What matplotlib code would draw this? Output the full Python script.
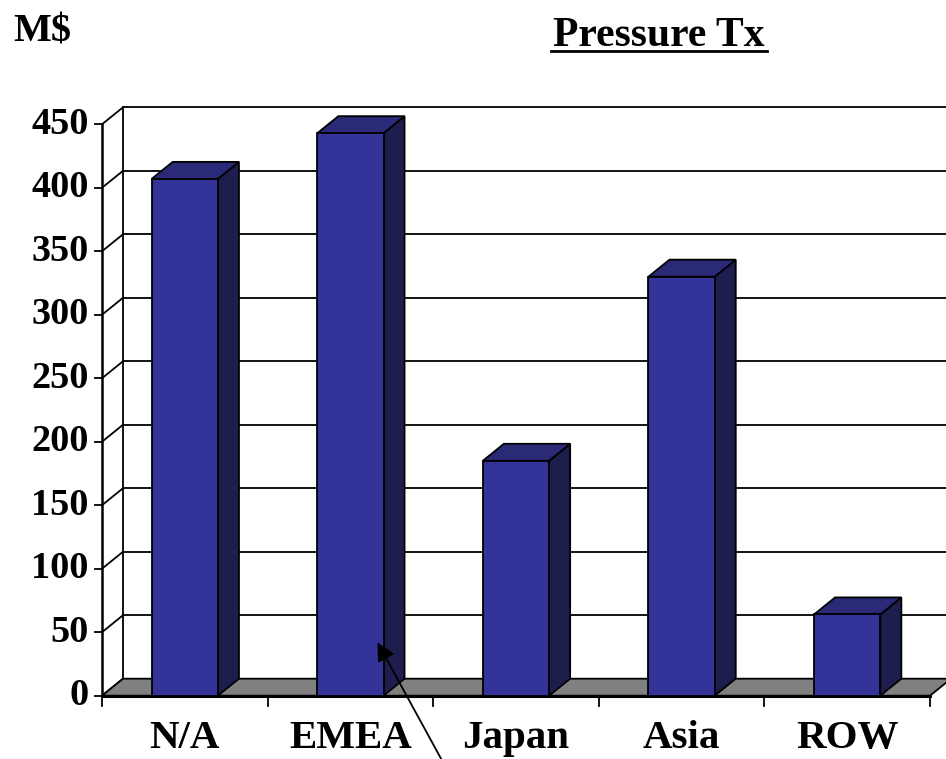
import matplotlib
matplotlib.use("Agg")
import matplotlib.pyplot as plt
from matplotlib.patches import Polygon

categories = ["N/A", "EMEA", "Japan", "Asia", "ROW"]
values = [407, 443, 185, 330, 64]
y_ticks = list(range(0, 451, 50))

FONT = ["Liberation Serif", "DejaVu Serif"]
FRONT = "#333399"
SIDE = "#1e1e4e"
TOP = "#2a2a78"

# depth offset of the 3d box, in data units
DX = 0.127
DY = 13.4
BAR_W = 0.40

fig = plt.figure(figsize=(9.46, 7.59), dpi=100)
ax = fig.add_axes([102 / 946, (759 - 695.7) / 759, 828 / 946, 571.4 / 759])
ax.set_xlim(0, len(categories))
ax.set_ylim(0, 450)
ax.axis("off")

n = len(categories)
lw = 1.3

# back wall gridlines + side wall diagonals
for v in y_ticks:
    ax.plot([DX, n + DX + 0.2], [v + DY, v + DY], color="black", lw=lw, clip_on=False, zorder=1)
    ax.plot([0, DX], [v, v + DY], color="black", lw=lw, clip_on=False, zorder=1)
    ax.plot([-0.04, 0], [v, v], color="black", lw=lw, clip_on=False, zorder=3)
    ax.text(-0.082, v, str(v), ha="right", va="center", fontsize=27.5,
            fontweight="bold", family=FONT)
ax.plot([DX, DX], [DY, 450 + DY], color="black", lw=lw, clip_on=False, zorder=1)
ax.plot([0, 0], [0, 450], color="black", lw=1.8, clip_on=False, zorder=3)

# floor
floor = Polygon([(0, 0), (n, 0), (n + DX, DY), (DX, DY)], closed=True,
                facecolor="#808080", edgecolor="black", lw=lw, clip_on=False, zorder=2)
ax.add_patch(floor)
ax.plot([0, n], [0, 0], color="black", lw=2.2, clip_on=False, zorder=3)
for i in range(n + 1):
    ax.plot([i, i], [0, -8], color="black", lw=lw, clip_on=False, zorder=3)

# bars
for i, (cat, v) in enumerate(zip(categories, values)):
    x0 = i + 0.5 - BAR_W / 2
    x1 = i + 0.5 + BAR_W / 2
    front = Polygon([(x0, 0), (x1, 0), (x1, v), (x0, v)], closed=True,
                    facecolor=FRONT, edgecolor="black", lw=lw, zorder=5)
    side = Polygon([(x1, 0), (x1 + DX, DY), (x1 + DX, v + DY), (x1, v)], closed=True,
                   facecolor=SIDE, edgecolor="black", lw=lw, zorder=4)
    top = Polygon([(x0, v), (x1, v), (x1 + DX, v + DY), (x0 + DX, v + DY)], closed=True,
                  facecolor=TOP, edgecolor="black", lw=lw, zorder=4)
    for p in (side, top, front):
        p.set_clip_on(False)
        ax.add_patch(p)
    ax.text(i + 0.5, -41, cat, ha="center", va="baseline", fontsize=29.5,
            fontweight="bold", family=FONT)

# arrow pointing into the EMEA bar
ax.annotate("", xy=(1.655, 44), xytext=(2.07, -55),
            arrowprops=dict(arrowstyle="-|>", color="black", lw=1.3, mutation_scale=28),
            annotation_clip=False, zorder=6)

fig.text(13 / 946, 1 - 41 / 759, "M$", ha="left", va="baseline", fontsize=29,
         fontweight="bold", family=FONT)
fig.text(659 / 946, 1 - 46 / 759, "Pressure Tx", ha="center", va="baseline", fontsize=30,
         fontweight="bold", family=FONT)
fig.add_artist(plt.Line2D([551 / 946, 767 / 946], [1 - 51 / 759, 1 - 51 / 759],
                          color="black", lw=2))

fig.savefig("out.png", dpi=100)
